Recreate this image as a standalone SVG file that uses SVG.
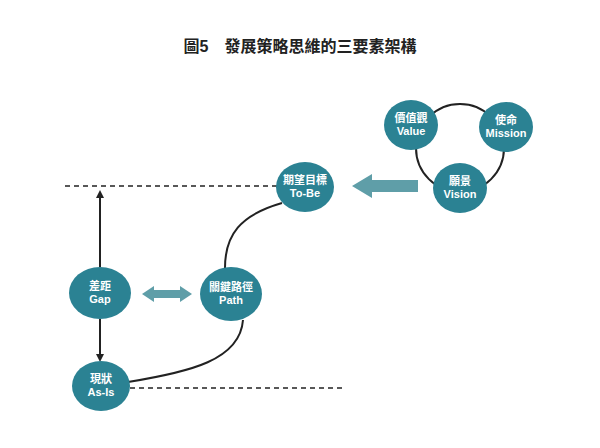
<svg xmlns="http://www.w3.org/2000/svg" width="600" height="448" viewBox="0 0 600 448">
<style>
.n{fill:#2b8293}
.t{font-family:"Liberation Sans","Noto Sans CJK TC",sans-serif;font-size:11px;font-weight:bold;fill:#fff;text-anchor:middle}
.ln{fill:none;stroke:#222;stroke-width:2}
.d{fill:none;stroke:#222;stroke-width:1.3;stroke-dasharray:5,4}
.b{fill:#5f9ea8}
</style>
<defs><marker id="ah" markerWidth="8" markerHeight="8" refX="6" refY="4" orient="auto" markerUnits="userSpaceOnUse"><path d="M0,0L8,4L0,8Z" fill="#222"/></marker></defs>
<rect width="600" height="448" fill="#fff"/>
<text x="300" y="52" text-anchor="middle" font-family="Liberation Sans,Noto Sans CJK TC,sans-serif" font-size="16" font-weight="bold" fill="#222">圖5　發展策略思維的三要素架構</text>
<g id="connectors">
<circle cx="460" cy="148" r="44" class="ln"/>
<line x1="65" y1="186" x2="282" y2="186" class="d"/>
<line x1="130" y1="388" x2="345" y2="388" class="d"/>
<line x1="100" y1="267" x2="100" y2="192" class="ln" marker-end="url(#ah)"/>
<line x1="100" y1="319" x2="100" y2="360" class="ln" marker-end="url(#ah)"/>
<path d="M282,203 C240,215 225,235 225,268" class="ln"/>
<path d="M243,320 C240,360 190,372 128,382" class="ln"/>
<path d="M418,180 L372,180 L372,174 L352,186 L372,198 L372,192 L418,192Z" class="b"/>
<path d="M142,294 L154,286 L154,290 L180,290 L180,286 L192,294 L180,302 L180,298 L154,298 L154,302Z" class="b"/>
</g>
<g id="value"><ellipse cx="411" cy="125" rx="27" ry="25" class="n"/><text x="411" y="122" class="t">價值觀</text><text x="411" y="135" class="t">Value</text></g>
<g id="mission"><ellipse cx="506" cy="127" rx="27" ry="25" class="n"/><text x="506" y="124" class="t">使命</text><text x="506" y="137" class="t">Mission</text></g>
<g id="vision"><ellipse cx="460" cy="188" rx="27" ry="25" class="n"/><text x="460" y="185" class="t">願景</text><text x="460" y="198" class="t">Vision</text></g>
<g id="tobe"><ellipse cx="305" cy="187" rx="29" ry="25" class="n"/><text x="305" y="184" class="t">期望目標</text><text x="305" y="197" class="t">To-Be</text></g>
<g id="gap"><ellipse cx="100" cy="293" rx="31" ry="26" class="n"/><text x="100" y="290" class="t">差距</text><text x="100" y="303" class="t">Gap</text></g>
<g id="path"><ellipse cx="231" cy="294" rx="31" ry="27" class="n"/><text x="231" y="291" class="t">關鍵路徑</text><text x="231" y="304" class="t">Path</text></g>
<g id="asis"><ellipse cx="101" cy="386" rx="29" ry="25" class="n"/><text x="101" y="383" class="t">現狀</text><text x="101" y="396" class="t">As-Is</text></g>
</svg>
